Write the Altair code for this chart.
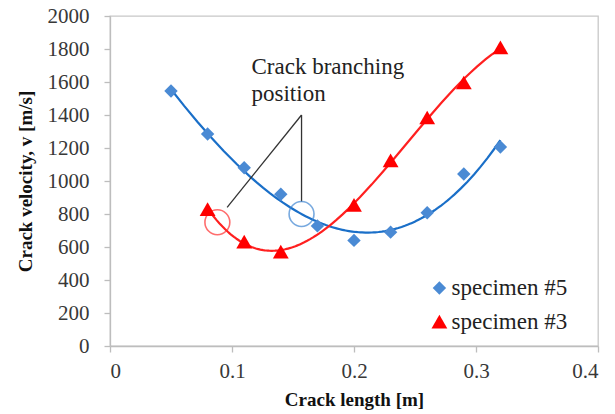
import altair as alt
import pandas as pd

# Data
x5 = [0.05, 0.08, 0.11, 0.14, 0.17, 0.20, 0.23, 0.26, 0.29, 0.32]
v5 = [1545, 1285, 1080, 920, 728, 640, 690, 808, 1042, 1206]
x3 = [0.08, 0.11, 0.14, 0.20, 0.23, 0.26, 0.29, 0.32]
v3 = [830, 632, 572, 855, 1125, 1385, 1597, 1810]

# Branching positions (open circles)
bx = [0.088, 0.157]
bv = [750, 800]
bs = ["specimen #3", "specimen #5"]

# Annotation leader lines (data units)
lead_x1 = [0.157, 0.157]
lead_y1 = [1400, 1400]
lead_x2 = [0.096, 0.157]
lead_y2 = [840, 875]

# Annotation text
ann_x = [0.116, 0.116]
ann_y = [1690, 1525]
ann_t = ["Crack branching", "position"]

# Legend entries (placed in data units, inside the plot)
leg_x = [0.270, 0.270]
leg_tx = [0.280, 0.280]
leg_y = [352, 148]

x_ticks = [0, 0.1, 0.2, 0.3, 0.4]
y_ticks = [0, 200, 400, 600, 800, 1000, 1200, 1400, 1600, 1800, 2000]

series = ["specimen #5", "specimen #3"]
pt_colors = ["#4a8ad4", "#ff0000"]
line_colors = ["#1a6fc8", "#ff2020"]
shapes = ["diamond", "triangle-up"]

df = pd.DataFrame({
    "x": x5 + x3,
    "v": v5 + v3,
    "s": [series[0]] * len(x5) + [series[1]] * len(x3),
})
circ = pd.DataFrame({"x": bx, "v": bv, "s": bs})
lead = pd.DataFrame({"x": lead_x1, "v": lead_y1, "x2": lead_x2, "v2": lead_y2})
ann = pd.DataFrame({"x": ann_x, "v": ann_y, "t": ann_t})
leg = pd.DataFrame({"x": leg_x, "tx": leg_tx, "v": leg_y, "s": series})

FONT = "Times New Roman, Liberation Serif, serif"

xs = alt.Scale(domain=[0, 0.4], nice=False)
ys = alt.Scale(domain=[0, 2000], nice=False)

xax = alt.Axis(values=x_ticks, format="~g", title="Crack length [m]",
               labelPadding=8, titlePadding=9, labelOverlap=False)
yax = alt.Axis(values=y_ticks, format="d", title="Crack velocity, v [m/s]",
               labelPadding=15, titlePadding=12, labelOverlap=False)

def X(f="x"):
    return alt.X(f"{f}:Q", scale=xs, axis=xax)

def Y(f="v"):
    return alt.Y(f"{f}:Q", scale=ys, axis=yax)

base = alt.Chart(df)

curves = base.transform_regression(
    "x", "v", method="poly", order=3, groupby=["s"]
).mark_line(strokeWidth=2.2).encode(
    x=X(), y=Y(),
    color=alt.Color("s:N", scale=alt.Scale(domain=series, range=line_colors), legend=None),
)

points = base.mark_point(filled=True, opacity=1, strokeWidth=0).encode(
    x=X(), y=Y(),
    fill=alt.Fill("s:N", scale=alt.Scale(domain=series, range=pt_colors), legend=None),
    shape=alt.Shape("s:N", scale=alt.Scale(domain=series, range=shapes), legend=None),
    size=alt.Size("s:N", scale=alt.Scale(domain=series, range=[180, 250]), legend=None),
)

leg_sym = alt.Chart(leg).mark_point(filled=True, opacity=1, strokeWidth=0).encode(
    x=X(), y=Y(),
    fill=alt.Fill("s:N", scale=alt.Scale(domain=series, range=pt_colors), legend=None),
    shape=alt.Shape("s:N", scale=alt.Scale(domain=series, range=shapes), legend=None),
    size=alt.Size("s:N", scale=alt.Scale(domain=series, range=[110, 160]), legend=None),
)

leg_txt = alt.Chart(leg).mark_text(align="left", baseline="middle", font=FONT,
                                   fontSize=23, color="#222222").encode(
    x=X("tx"), y=Y(), text="s:N",
)

circles = alt.Chart(circ).mark_point(filled=False, size=620, strokeWidth=1.6, shape="circle").encode(
    x=X(), y=Y(),
    stroke=alt.Stroke("s:N", scale=alt.Scale(domain=series, range=["#3f86d2", "#ff3030"]), legend=None),
)

leads = alt.Chart(lead).mark_rule(color="#333333", strokeWidth=1.3).encode(
    x=X(), y=Y(), x2="x2:Q", y2="v2:Q",
)

texts = alt.Chart(ann).mark_text(align="left", baseline="middle", font=FONT,
                                 fontSize=23, color="#222222").encode(
    x=X(), y=Y(), text="t:N",
)

chart = alt.layer(curves, leads, circles, points, texts, leg_sym, leg_txt).resolve_scale(
    color="independent"
).properties(
    width=488, height=330,
    autosize=alt.AutoSizeParams(type="none"),
    padding={"left": 110, "top": 16, "right": 17, "bottom": 68},
    background="white",
).configure_view(
    stroke="#c8c8c8", strokeWidth=1.3
).configure_axis(
    grid=False, tickSize=6,
    labelFont=FONT, labelFontSize=21, labelColor="#383838",
    titleFont=FONT, titleFontSize=19, titleFontWeight="bold", titleColor="#111111",
    domainColor="#bdbdbd", tickColor="#bdbdbd", domainWidth=1.3, tickWidth=1.3,
)

chart.save("out.html", embed_options={"renderer": "svg", "actions": False})
